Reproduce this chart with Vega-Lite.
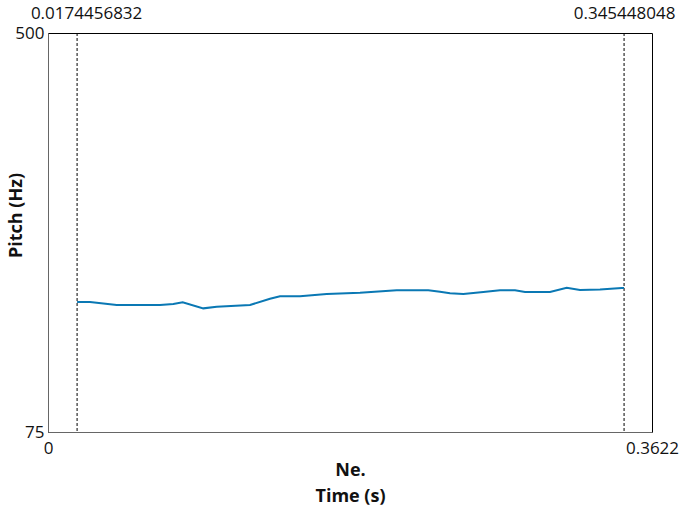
{
  "$schema": "https://vega.github.io/schema/vega-lite/v6.json",
  "width": 604,
  "height": 399,
  "autosize": {"type": "none"},
  "padding": {"left": 48, "top": 33, "right": 29, "bottom": 75},
  "background": "white",
  "config": {
    "view": {"stroke": "#000", "strokeWidth": 1},
    "font": "Open Sans",
    "axis": {"labelFont": "Open Sans", "titleFont": "Open Sans", "labelColor": "#111", "titleColor": "#111", "grid": false, "ticks": false, "labelFlush": false, "labelOverlap": false}
  },
  "datasets": {
    "pitch": [
      {"time": 0.01745, "hz": 213.5},
      {"time": 0.02519, "hz": 213.5},
      {"time": 0.0412, "hz": 210.3},
      {"time": 0.06716, "hz": 210.3},
      {"time": 0.07514, "hz": 211.3},
      {"time": 0.08077, "hz": 213.1},
      {"time": 0.09313, "hz": 206.7},
      {"time": 0.10116, "hz": 208.5},
      {"time": 0.12113, "hz": 210.3},
      {"time": 0.13313, "hz": 217.0},
      {"time": 0.13913, "hz": 219.5},
      {"time": 0.15112, "hz": 219.5},
      {"time": 0.16713, "hz": 222.0},
      {"time": 0.1871, "hz": 223.4},
      {"time": 0.2091, "hz": 225.9},
      {"time": 0.22806, "hz": 225.9},
      {"time": 0.23507, "hz": 224.4},
      {"time": 0.24107, "hz": 222.7},
      {"time": 0.24905, "hz": 222.0},
      {"time": 0.26104, "hz": 224.1},
      {"time": 0.27106, "hz": 225.9},
      {"time": 0.28005, "hz": 225.9},
      {"time": 0.28605, "hz": 224.1},
      {"time": 0.30104, "hz": 224.1},
      {"time": 0.31105, "hz": 228.7},
      {"time": 0.31903, "hz": 226.2},
      {"time": 0.33102, "hz": 226.9},
      {"time": 0.34403, "hz": 228.4},
      {"time": 0.34545, "hz": 228.5}
    ],
    "bounds": [
      {"time": 0.0174456832},
      {"time": 0.345448048}
    ]
  },
  "layer": [
    {
      "data": {"name": "bounds"},
      "mark": {"type": "rule", "color": "#000", "strokeWidth": 1, "strokeDash": [3, 2]},
      "encoding": {
        "x": {
          "field": "time", "type": "quantitative",
          "scale": {"domain": [0, 0.3622], "nice": false, "zero": false},
          "axis": {
            "orient": "top", "title": null, "domain": false,
            "values": [0.0174456832, 0.345448048],
            "labelExpr": "datum.value < 0.1 ? '0.0174456832' : '0.345448048'",
            "labelFontSize": 17, "labelPadding": 11,
            "labelOffset": {"condition": {"test": "datum.value < 0.1", "value": 9}, "value": 0}
          }
        }
      }
    },
    {
      "data": {"name": "pitch"},
      "mark": {"type": "line", "color": "#0a78b4", "strokeWidth": 2, "interpolate": "linear"},
      "encoding": {
        "x": {
          "field": "time", "type": "quantitative",
          "scale": {"domain": [0, 0.3622], "nice": false, "zero": false},
          "axis": {
            "orient": "bottom",
            "values": [0, 0.3622],
            "labelExpr": "datum.value == 0 ? '0' : '0.3622'",
            "labelFontSize": 17, "labelPadding": 8,
            "domainColor": "#666",
            "title": ["Ne.", "Time (s)"],
            "titleFontSize": 18, "titleFontWeight": "bold",
            "titleLineHeight": 26.5,
            "titleBaseline": "top",
            "titleY": 29
          }
        },
        "y": {
          "field": "hz", "type": "quantitative",
          "scale": {"domain": [75, 500], "nice": false, "zero": false},
          "axis": {
            "values": [75, 500],
            "labelFontSize": 17, "labelPadding": 4,
            "domainColor": "#666",
            "title": "Pitch (Hz)",
            "titleFontSize": 18, "titleFontWeight": "bold",
            "titleAngle": -90,
            "titleAlign": "center",
            "titleBaseline": "alphabetic",
            "titleX": -27,
            "titleY": 182
          }
        }
      }
    }
  ],
  "resolve": {"axis": {"x": "independent"}}
}
